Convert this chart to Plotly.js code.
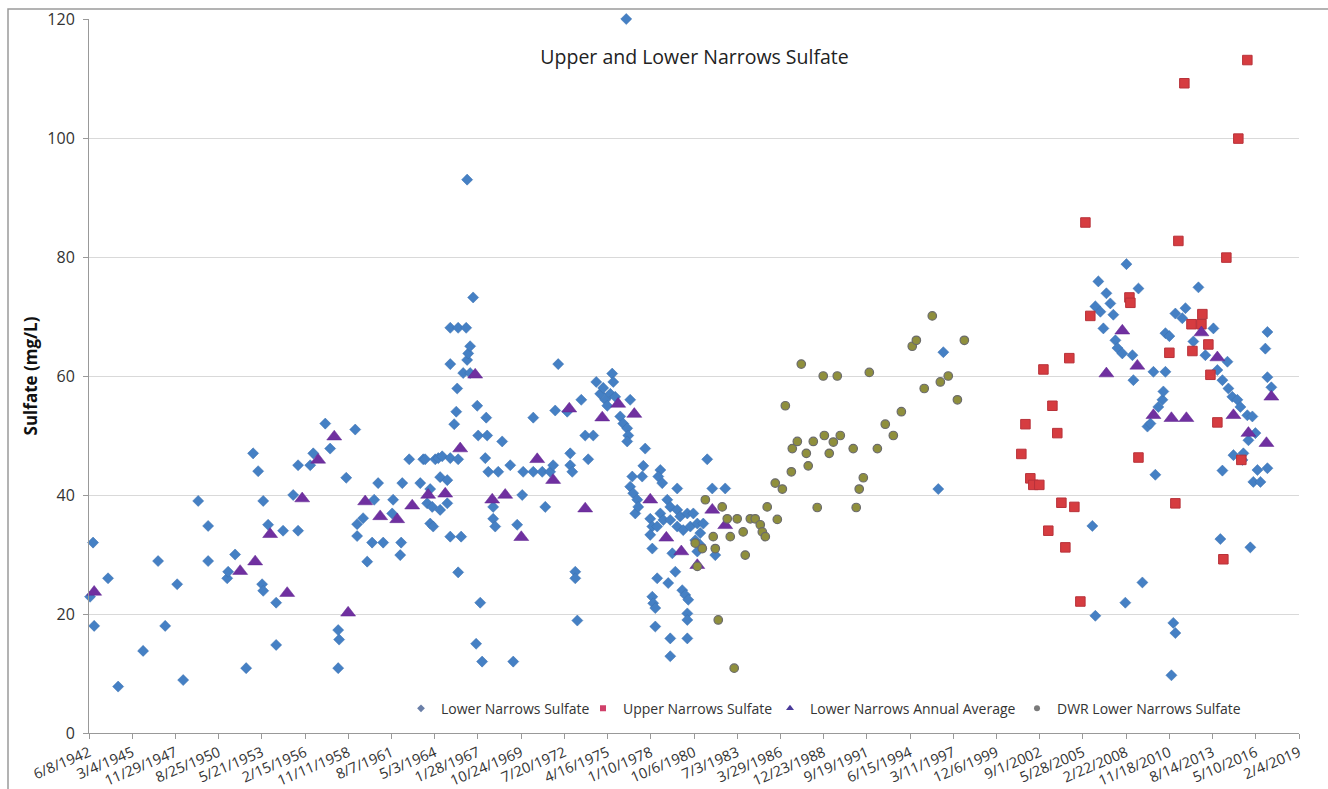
<!DOCTYPE html>
<html><head><meta charset="utf-8">
<script src="https://cdn.plot.ly/plotly-3.0.1.min.js"></script>
<style>html,body{margin:0;padding:0;background:#fff}#chart{width:1328px;height:789px}</style>
</head><body><div id="chart"></div>
<script>
// Lower Narrows Sulfate (decimal year, mg/L)
const lnYear = [1942.50,1942.69,1942.76,1943.64,1944.28,1945.86,1946.81,1947.26,1948.02,1948.40,1949.35,1949.98,1949.98,1951.19,1951.25,1951.69,1952.39,1952.83,1953.15,1953.40,1953.47,1953.47,1953.78,1954.29,1954.29,1954.73,1955.37,1955.68,1955.68,1956.45,1956.64,1957.40,1957.71,1958.22,1958.28,1958.22,1958.73,1959.30,1959.42,1959.42,1959.80,1960.06,1960.37,1960.50,1960.75,1961.07,1961.64,1961.70,1962.15,1962.21,1962.28,1962.72,1963.42,1963.61,1963.73,1963.86,1964.05,1964.05,1964.18,1964.24,1964.37,1964.56,1964.68,1964.68,1964.81,1965.13,1965.13,1965.32,1965.32,1965.32,1965.32,1965.57,1965.70,1965.76,1965.82,1965.82,1965.82,1966.01,1966.14,1966.33,1966.39,1966.39,1966.46,1966.58,1966.58,1966.77,1967.03,1966.96,1967.09,1967.22,1967.34,1967.54,1967.60,1967.66,1967.73,1968.04,1968.04,1968.17,1968.36,1968.61,1969.12,1969.31,1969.56,1969.88,1969.94,1970.58,1970.58,1971.15,1971.34,1971.65,1971.84,1971.97,1972.16,1972.73,1972.92,1972.92,1973.05,1973.24,1973.24,1973.37,1973.62,1973.87,1974.06,1974.38,1974.57,1974.82,1975.01,1975.14,1975.27,1975.46,1975.58,1975.65,1975.77,1976.09,1976.28,1976.47,1976.53,1976.60,1976.53,1976.72,1976.72,1976.85,1976.91,1977.04,1977.17,1977.23,1977.48,1977.55,1977.67,1977.99,1978.12,1977.99,1978.12,1978.12,1978.18,1978.31,1978.31,1978.43,1978.43,1978.63,1978.63,1978.50,1978.75,1978.82,1979.07,1979.13,1979.26,1979.26,1979.26,1979.26,1979.39,1979.58,1979.70,1979.70,1979.70,1979.89,1980.02,1980.08,1980.21,1980.34,1980.34,1980.34,1980.34,1980.40,1980.53,1980.72,1980.84,1980.97,1980.97,1981.16,1981.16,1981.35,1981.60,1981.92,1982.11,1982.74,1996.24,1996.56,2006.00,2006.19,2006.19,2006.38,2006.51,2006.70,2006.89,2007.14,2007.33,2007.46,2007.59,2007.90,2008.09,2008.16,2008.54,2008.60,2008.92,2009.17,2009.49,2009.68,2009.87,2009.99,2010.18,2010.44,2010.50,2010.63,2010.63,2010.88,2011.01,2011.13,2011.26,2011.26,2011.70,2011.90,2012.40,2012.72,2013.16,2013.67,2013.92,2014.11,2014.24,2014.24,2014.56,2014.62,2014.87,2014.94,2015.19,2015.38,2015.51,2015.57,2015.82,2015.89,2016.01,2016.14,2016.20,2016.33,2016.46,2016.65,2016.96,2017.09,2017.09,2017.09,2017.34];
const lnVal = [22.9,32,18,26,7.8,13.8,28.9,18,25,8.9,39,34.8,28.9,26,27.1,30,10.9,47,44,25,39,23.9,35,14.8,21.9,34,40,45,34,45,47,52,47.8,17.3,15.7,10.9,42.9,51,35.1,33.1,36.1,28.8,32,39.2,42,32,36.9,39.2,29.9,32,42,46,42,46,46,38.6,41,35.2,38,34.7,46,46.2,37.5,43,46.5,42.5,38.6,46.2,68.1,62,33,51.9,54,57.9,68.1,46,27,33,60.5,68.1,93,62.7,63.8,65,60.5,73.2,55,15,50,21.9,12,46.2,53,50,43.9,38,36,34.7,43.9,49,45,12,35,40,43.9,53,43.9,43.9,38,43.9,45,54.2,62,54,47,45,43.9,27.1,26,18.9,56,50,46,50,59,57,58,56,55,57,60.4,59,56.5,53.2,52,120,51.2,50,49,56,41.4,43.1,40.3,36.9,39.2,38,43.1,44.9,47.8,36,34.7,33.3,31,22.9,21.8,21,17.9,34.7,26,44.2,36.9,43.1,42,35.8,39.2,25.2,38,35.8,15.9,12.9,30.2,27.1,41.1,37.5,34.7,36.4,24,34.1,23.2,36.9,20.1,19,15.9,22.4,34.7,36.9,32.4,35.2,30.5,33.6,31.6,35.2,46,41.1,29.9,41.1,41,64,34.8,19.7,71.7,75.9,70.8,68,73.9,72.2,70.3,66,64.7,63.8,21.9,78.8,63.5,59.3,74.7,25.3,51.5,52,60.7,43.4,54.8,56,57.4,60.7,67.2,66.7,9.7,18.5,16.8,70.5,69.7,71.4,65.8,74.9,63.5,68,61,32.6,59.3,44.1,62.4,57.9,56.5,46.7,56,54.8,45.9,47,53.4,49.2,31.2,53.2,42.2,50.4,44.2,42.2,64.6,67.4,59.8,44.5,58.1];

// Upper Narrows Sulfate
const unYear = [2001.50,2001.76,2002.07,2002.26,2002.64,2002.90,2003.21,2003.47,2003.78,2004.04,2004.29,2004.54,2004.86,2005.24,2005.56,2005.87,2008.35,2008.41,2008.92,2010.88,2011.26,2011.45,2011.83,2012.28,2012.34,2012.91,2012.97,2013.35,2013.48,2013.92,2014.30,2014.49,2015.25,2015.44,2015.82];
const unVal = [46.9,51.9,42.8,41.7,41.7,61.1,34,55,50.4,38.7,31.2,63,38,22.1,85.8,70.1,73.2,72.3,46.3,63.9,38.6,82.7,109.2,68.7,64.2,68.7,70.4,65.3,60.2,52.2,29.2,79.9,99.9,45.9,113.1];

// Lower Narrows Annual Average
const avgYear = [1942.76,1952.01,1952.96,1953.91,1954.99,1955.94,1956.95,1957.97,1958.85,1959.93,1960.88,1961.96,1962.91,1963.92,1965.00,1965.95,1966.90,1967.98,1968.80,1969.82,1970.83,1971.84,1972.86,1973.87,1974.95,1975.96,1976.98,1977.99,1979.01,1979.96,1980.97,1981.92,1982.74,2006.89,2007.90,2008.85,2009.87,2011.01,2011.96,2012.91,2013.92,2014.94,2015.89,2017.03,2017.34];
const avgVal = [23.7,27.2,28.8,33.4,23.5,39.4,45.9,49.8,20.2,38.9,36.4,35.9,38.2,40,40.2,47.8,60.2,39.2,40,32.9,46,42.5,54.5,37.7,53,55.3,53.6,39.2,32.8,30.5,28.2,37.5,34.9,60.4,67.6,61.7,53.4,52.9,52.9,67.3,63.1,53.4,50.4,48.7,56.5];

// DWR Lower Narrows Sulfate
const dwrYear = [1980.84,1980.97,1981.29,1981.48,1981.98,1982.11,1982.30,1982.55,1982.87,1983.06,1983.31,1983.50,1983.88,1984.01,1984.33,1984.64,1984.96,1985.09,1985.28,1985.40,1985.91,1986.04,1986.36,1986.55,1986.93,1986.99,1987.31,1987.56,1987.88,1988.00,1988.32,1988.57,1988.95,1989.02,1989.33,1989.59,1989.84,1990.03,1990.85,1991.04,1991.23,1991.49,1991.87,1992.38,1992.88,1993.39,1993.90,1994.59,1994.85,1995.35,1995.86,1996.37,1996.87,1997.45,1997.89];
const dwrVal = [31.9,28,31,39.2,33,31,19,38,36,33,10.9,36,33.8,29.9,36,36,35,33.8,33,38,42,35.9,41,55,43.9,47.8,49,62,47,44.9,49,37.9,60,50,47,48.9,60,50,47.8,37.9,41,42.9,60.6,47.8,51.9,50,54,65,66,57.9,70.1,59,60,56,66];

const seriesNames = ['Lower Narrows Sulfate','Upper Narrows Sulfate','Lower Narrows Annual Average','DWR Lower Narrows Sulfate'];
const xStart = '1942-06-08', xEnd = '2019-02-04';

function yrToDate(y){
  const yr = Math.floor(y);
  const s = Date.UTC(yr,0,1), e = Date.UTC(yr+1,0,1);
  return new Date(s + (y-yr)*(e-s)).toISOString().slice(0,19).replace('T',' ');
}
const toDates = a => a.map(yrToDate);

const blue='#4580c4', red='#d63c40', purple='#7030a0', olive='#8f8f3c';
const styles = [
  {symbol:'diamond', size:8.5, color:blue, line:{color:'#3a6fae', width:0.5}},
  {symbol:'square', size:9.5, color:red, line:{color:'#b8323a', width:1}},
  {symbol:'triangle-up', size:13, color:purple, line:{color:'#5f2590', width:0.5}},
  {symbol:'circle', size:8.5, color:olive, line:{color:'#6b6b6b', width:1.2}}
];
const legendStyles = [
  {symbol:'diamond', size:6, color:'#6a7fa8'},
  {symbol:'square', size:6, color:'#d0406a'},
  {symbol:'triangle-up', size:7, color:'#4a3a9a'},
  {symbol:'circle', size:6, color:'#7a7a7a'}
];
const xs = [lnYear, unYear, avgYear, dwrYear], ys = [lnVal, unVal, avgVal, dwrVal];
const legendIds = ['legend','legend2','legend3','legend4'];

const traces = [];
for (let i=0;i<4;i++){
  traces.push({type:'scatter', mode:'markers', x:toDates(xs[i]), y:ys[i], name:seriesNames[i],
    marker:styles[i], showlegend:false, cliponaxis:false, hoverinfo:'x+y'});
}
for (let i=0;i<4;i++){
  traces.push({type:'scatter', mode:'markers', x:[null], y:[null], name:seriesNames[i],
    marker:legendStyles[i], showlegend:true, legend:legendIds[i]});
}

const font = 'Open Sans, Liberation Sans, sans-serif';
const legFont = {family:font, size:14, color:'#333'};
const legendAt = px => ({x:(px-89)/1210, xanchor:'left', y:0.034, yanchor:'middle', orientation:'h',
  bgcolor:'rgba(0,0,0,0)', font:legFont, itemwidth:30});
const layout = {
  width:1328, height:789,
  paper_bgcolor:'#fff', plot_bgcolor:'#fff',
  margin:{l:89, r:29, t:19, b:56},
  font:{family:font, color:'#333'},
  title:{text:'Upper and Lower Narrows Sulfate', x:0.523, xref:'container', xanchor:'center',
    y:1-57/789, yref:'container', yanchor:'middle', font:{family:font, size:19.5, color:'#222'}},
  xaxis:{type:'date', range:[xStart, xEnd], tick0:xStart, dtick:86400000*1000, tickformat:'%-m/%-d/%Y',
    tickangle:-23, ticks:'outside', ticklen:5, tickcolor:'#999', showline:true, linecolor:'#999', linewidth:1,
    showgrid:false, zeroline:false, tickfont:{family:font, size:14.5, color:'#333'}},
  yaxis:{range:[0,120], tick0:0, dtick:20, ticks:'outside', ticklen:5, tickcolor:'#999', showline:true,
    linecolor:'#999', linewidth:1, gridcolor:'#d9d9d9', gridwidth:1, zeroline:false,
    tickfont:{family:font, size:16, color:'#333'}, ticklabelstandoff:5,
    title:{text:'<b>Sulfate (mg/L)</b>', font:{family:font, size:17, color:'#111'}, standoff:5}},
  legend:legendAt(401), legend2:legendAt(583), legend3:legendAt(770), legend4:legendAt(1017),
  shapes:[{type:'rect', xref:'paper', yref:'paper', x0:(8-89)/1210, x1:(1340-89)/1210, y0:-0.12, y1:(733-9)/714,
    line:{color:'#9a9a9a', width:1.5}, fillcolor:'rgba(0,0,0,0)', layer:'below'}],
  showlegend:true
};
Plotly.newPlot('chart', traces, layout, {displayModeBar:false, staticPlot:true});
</script></body></html>
